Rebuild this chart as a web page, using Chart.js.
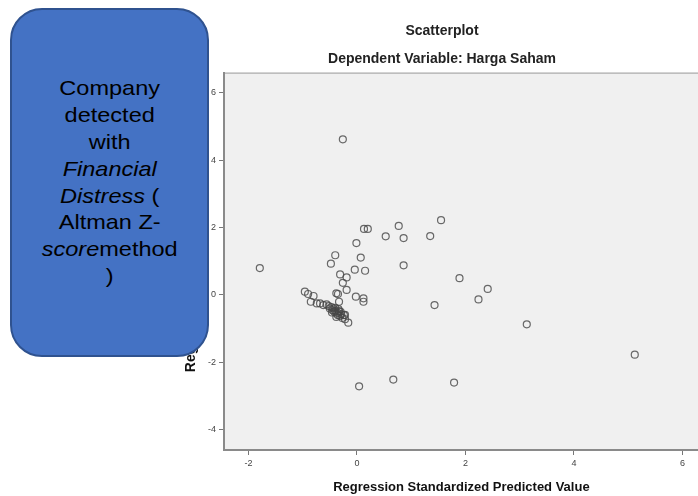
<!DOCTYPE html>
<html>
<head>
<meta charset="utf-8">
<script src="https://cdn.jsdelivr.net/npm/chart.js@4.4.1/dist/chart.umd.min.js"></script>
<style>
  html, body { margin: 0; padding: 0; background: #fff; }
  body { width: 698px; height: 496px; position: relative; overflow: hidden; font-family: "Liberation Sans", Arial, sans-serif; }
  #wrap { position: absolute; left: 180px; top: 0; width: 524px; height: 496px; }
  #note {
    position: absolute; left: 10px; top: 8px; width: 195px; height: 345px;
    background: #4472C4; border: 2px solid #2F528F; border-radius: 32px;
    display: flex; align-items: center; justify-content: center;
  }
  #note div {
    text-align: center; color: #000; font-size: 21px; line-height: 26.8px;
    transform: scaleX(1.12);
  }
</style>
</head>
<body>
<div id="wrap"><canvas id="chart" width="524" height="496"></canvas></div>
<div id="note"><div>Company<br>detected<br>with<br><i>Financial</i><br><i>Distress</i> (<br>Altman Z-<br><i>score</i>method<br>)</div></div>
<script>
// regression standardized predicted value (x) vs studentized residual (y)
const predicted = [
  -0.26, 0.13, 0.20, 0.77, 0.53, 0.86, 1.35, 1.55, -0.01, -0.40,
  0.07, -0.48, 0.86, -1.79, -0.04, 0.15, -0.31, -0.19, 1.89, 2.41,
  -0.26, -0.19, -0.35, -0.02, 0.12, 0.12, 2.24, 1.43, 3.13, 5.12,
  1.79, 0.67, 0.04, -0.16, -0.96, -0.90, -0.80, -0.85, -0.74, -0.68,
  -0.62, -0.56, -0.52, -0.50, -0.47, -0.45, -0.43, -0.42, -0.40, -0.38,
  -0.36, -0.35, -0.33, -0.31, -0.29, -0.27, -0.46, -0.40, -0.34, -0.30,
  -0.24, -0.22, -0.38, -0.38, -0.33, -0.22
];
const residual = [
  4.62, 1.96, 1.96, 2.05, 1.74, 1.69, 1.75, 2.22, 1.54, 1.18,
  1.11, 0.93, 0.88, 0.80, 0.75, 0.72, 0.61, 0.52, 0.50, 0.18,
  0.36, 0.15, 0.03, -0.05, -0.10, -0.20, -0.13, -0.30, -0.87, -1.77,
  -2.60, -2.51, -2.71, -0.82, 0.10, 0.03, -0.03, -0.20, -0.25, -0.25,
  -0.30, -0.28, -0.33, -0.40, -0.36, -0.45, -0.40, -0.50, -0.47, -0.55,
  -0.52, -0.60, -0.48, -0.62, -0.57, -0.68, -0.52, -0.38, -0.42, -0.50,
  -0.60, -0.72, -0.65, 0.05, -0.20, -0.59
];
const xTicks = [-2, 0, 2, 4, 6];
const yTicks = [-4, -2, 0, 2, 4, 6];

const points = predicted.map((v, i) => ({ x: v, y: residual[i] }));

// grey plot panel + thin top frame line, like the SPSS output
const panel = {
  id: 'panel',
  beforeDraw(chart) {
    const { ctx, chartArea: a } = chart;
    ctx.save();
    ctx.fillStyle = '#f0f0f0';
    ctx.fillRect(a.left, a.top, a.right - a.left, a.bottom - a.top);
    ctx.strokeStyle = '#9a9a9a';
    ctx.lineWidth = 1;
    ctx.beginPath();
    ctx.moveTo(a.left, a.top + 0.5);
    ctx.lineTo(a.right, a.top + 0.5);
    ctx.stroke();
    ctx.restore();
  }
};

new Chart(document.getElementById('chart'), {
  type: 'scatter',
  data: {
    datasets: [{
      data: points,
      pointStyle: 'circle',
      pointRadius: 3.5,
      pointBorderWidth: 1.2,
      pointBackgroundColor: 'rgba(0,0,0,0)',
      pointBorderColor: 'rgba(70,70,70,0.8)'
    }]
  },
  options: {
    responsive: false,
    animation: false,
    layout: { padding: 0 },
    plugins: {
      legend: { display: false },
      tooltip: { enabled: false },
      title: {
        display: true,
        text: 'Scatterplot',
        color: '#222',
        font: { family: 'Liberation Sans', size: 14, weight: 'bold' },
        padding: { top: 23, bottom: 10 }
      },
      subtitle: {
        display: true,
        text: 'Dependent Variable: Harga Saham',
        color: '#222',
        font: { family: 'Liberation Sans', size: 14, weight: 'bold' },
        padding: { top: 1, bottom: 5 }
      }
    },
    scales: {
      x: {
        type: 'linear',
        min: -2.45,
        max: 6.3,
        afterFit(s) { s.height = 46; },
        afterBuildTicks(s) { s.ticks = xTicks.map(v => ({ value: v })); },
        ticks: { color: '#444', font: { family: 'Liberation Sans', size: 9 }, padding: 3, maxRotation: 0 },
        grid: { drawOnChartArea: false, drawTicks: true, tickLength: 5, color: '#777' },
        border: { display: true, color: '#8a8a8a', width: 2 },
        title: {
          display: true,
          text: 'Regression Standardized Predicted Value',
          color: '#111',
          font: { family: 'Liberation Sans', size: 13, weight: 'bold' },
          padding: { top: 4, bottom: 1 }
        }
      },
      y: {
        type: 'linear',
        min: -4.6,
        max: 6.6,
        afterFit(s) { s.width = 44; },
        afterBuildTicks(s) { s.ticks = yTicks.map(v => ({ value: v })); },
        ticks: { color: '#444', font: { family: 'Liberation Sans', size: 9 }, padding: 3 },
        grid: { drawOnChartArea: false, drawTicks: true, tickLength: 5, color: '#777' },
        border: { display: true, color: '#8a8a8a', width: 2 },
        title: {
          display: true,
          text: 'Regression Studentized Residual',
          color: '#111',
          font: { family: 'Liberation Sans', size: 14, weight: 'bold' },
          padding: { top: 3, bottom: 0 }
        }
      }
    }
  },
  plugins: [panel]
});
</script>
</body>
</html>
